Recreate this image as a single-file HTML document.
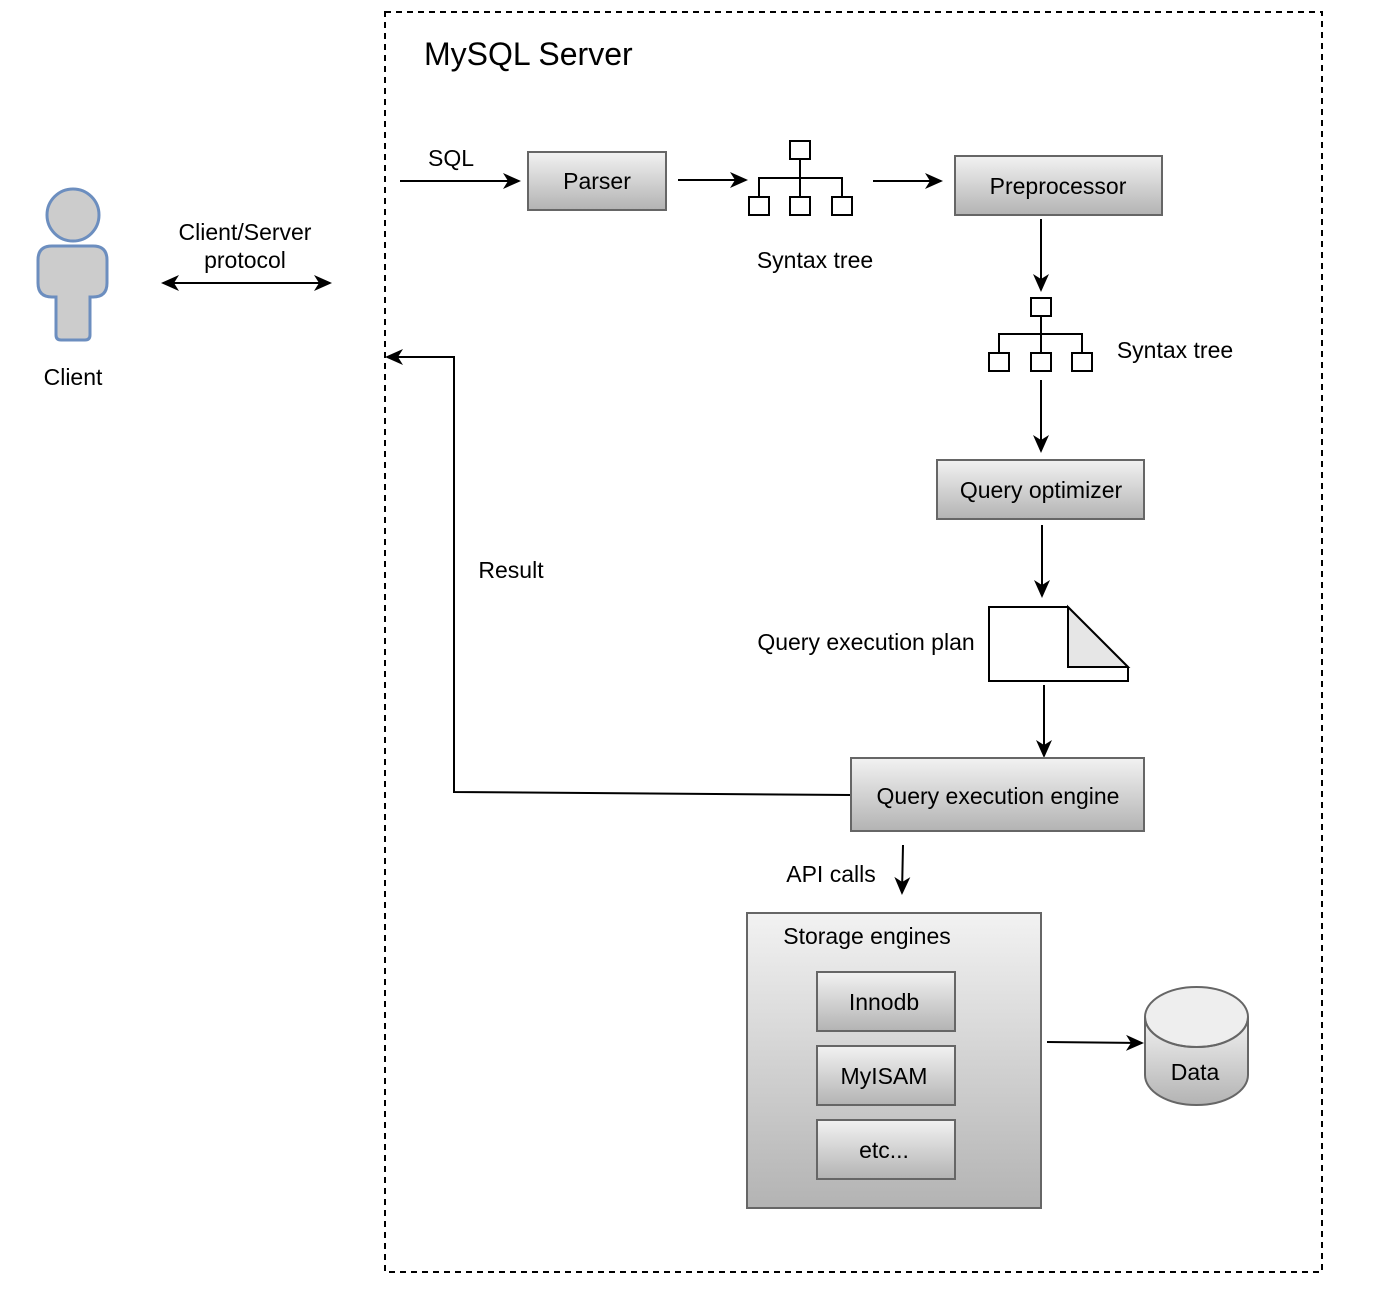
<!DOCTYPE html>
<html><head><meta charset="utf-8"><style>
html,body{margin:0;padding:0;background:#fff;}
svg{display:block;}
text{font-family:"Liberation Sans",sans-serif;fill:#000;}
</style></head><body>
<svg width="1387" height="1301" viewBox="0 0 1387 1301" xmlns="http://www.w3.org/2000/svg">
<defs>
<linearGradient id="g" x1="0" y1="0" x2="0" y2="1"><stop offset="0" stop-color="#f2f2f2"/><stop offset="1" stop-color="#b3b3b3"/></linearGradient>
<marker id="a" viewBox="-20 -10 24 20" refX="0" refY="0" markerWidth="24" markerHeight="20" markerUnits="userSpaceOnUse" orient="auto-start-reverse">
<path d="M-16,-8 L2,0 L-16,8 L-11,0 Z" fill="#000"/></marker>
</defs>
<rect x="385" y="12" width="937" height="1260" fill="none" stroke="#000" stroke-width="2" stroke-dasharray="6,5"/>
<text x="424" y="65" font-size="32">MySQL Server</text>
<!-- client -->
<g fill="#ccc" stroke="#6c8ebf" stroke-width="3">
<circle cx="73" cy="215" r="26"/>
<path d="M38,260 Q38,246 52,246 L93,246 Q107,246 107,260 L107,283 Q107,297 93,297 L90,297 L90,335 Q90,340 85,340 L61,340 Q56,340 56,335 L56,297 L52,297 Q38,297 38,283 Z"/>
</g>
<g font-size="23" text-anchor="middle">
<text x="73" y="385">Client</text>
<text x="245" y="240">Client/Server</text>
<text x="245" y="268">protocol</text>
</g>
<g stroke="#000" stroke-width="2" fill="none">
<line x1="163" y1="283" x2="330" y2="283" marker-start="url(#a)" marker-end="url(#a)"/>
<line x1="400" y1="181" x2="519" y2="181" marker-end="url(#a)"/>
<line x1="678" y1="180" x2="746" y2="180" marker-end="url(#a)"/>
<line x1="873" y1="181" x2="941" y2="181" marker-end="url(#a)"/>
<line x1="1041" y1="219" x2="1041" y2="290" marker-end="url(#a)"/>
<line x1="1041" y1="380" x2="1041" y2="451" marker-end="url(#a)"/>
<line x1="1042" y1="525" x2="1042" y2="596" marker-end="url(#a)"/>
<line x1="1044" y1="685" x2="1044" y2="756" marker-end="url(#a)"/>
<line x1="903" y1="845" x2="902" y2="893" marker-end="url(#a)"/>
<line x1="1047" y1="1042" x2="1142" y2="1043" marker-end="url(#a)"/>
<polyline points="851,795 454,792 454,357 387,357" marker-end="url(#a)"/>
</g>
<g font-size="23" text-anchor="middle">
<text x="451" y="166">SQL</text>
<text x="511" y="578">Result</text>
<text x="815" y="268">Syntax tree</text>
<text x="1175" y="358">Syntax tree</text>
</g>
<!-- trees -->
<g stroke="#000" stroke-width="2" fill="#fff">
<path d="M800,159 V197 M759,197 V178 H842 V197" fill="none"/>
<rect x="790" y="141" width="20" height="18"/><rect x="749" y="197" width="20" height="18"/><rect x="790" y="197" width="20" height="18"/><rect x="832" y="197" width="20" height="18"/>
<path d="M1041,316 V353 M999,353 V334 H1082 V353" fill="none"/>
<rect x="1031" y="298" width="20" height="18"/><rect x="989" y="353" width="20" height="18"/><rect x="1031" y="353" width="20" height="18"/><rect x="1072" y="353" width="20" height="18"/>
</g>
<!-- boxes -->
<g fill="url(#g)" stroke="#666" stroke-width="2">
<rect x="528" y="152" width="138" height="58"/>
<rect x="955" y="156" width="207" height="59"/>
<rect x="937" y="460" width="207" height="59"/>
<rect x="851" y="758" width="293" height="73"/>
<rect x="747" y="913" width="294" height="295"/>
<rect x="817" y="972" width="138" height="59"/>
<rect x="817" y="1046" width="138" height="59"/>
<rect x="817" y="1120" width="138" height="59"/>
</g>
<g font-size="23" text-anchor="middle">
<text x="597" y="189">Parser</text>
<text x="1058" y="194">Preprocessor</text>
<text x="1041" y="498">Query optimizer</text>
<text x="998" y="804">Query execution engine</text>
<text x="884" y="1010">Innodb</text>
<text x="884" y="1084">MyISAM</text>
<text x="884" y="1158">etc...</text>
<text x="867" y="944">Storage engines</text>
<text x="831" y="882">API calls</text>
<text x="866" y="650">Query execution plan</text>
</g>
<!-- doc -->
<path d="M989,607 H1068 L1128,667 V681 H989 Z" fill="#fff" stroke="#000" stroke-width="2"/>
<path d="M1068,607 V667 H1128 Z" fill="#e6e6e6" stroke="#000" stroke-width="2"/>
<!-- cylinder -->
<path d="M1145,1017 V1075 A51.5,30 0 0 0 1248,1075 V1017" fill="url(#g)" stroke="#666" stroke-width="2"/>
<ellipse cx="1196.5" cy="1017" rx="51.5" ry="30" fill="#eeeeee" stroke="#666" stroke-width="2"/>
<path d="M1145,1017 A51.5,30 0 0 0 1248,1017" fill="none" stroke="#666" stroke-width="2"/>
<text x="1195" y="1080" font-size="23" text-anchor="middle">Data</text>
</svg>
</body></html>
